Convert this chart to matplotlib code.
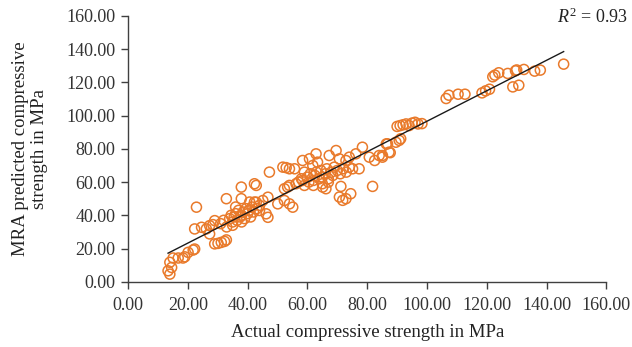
import numpy as np
import matplotlib
matplotlib.use('Agg')
import matplotlib.pyplot as plt

plt.rcParams['font.family'] = ['Liberation Serif', 'DejaVu Serif']
plt.rcParams['mathtext.fontset'] = 'custom'
plt.rcParams['mathtext.it'] = 'Liberation Serif:italic'
plt.rcParams['mathtext.rm'] = 'Liberation Serif'

# actual vs MRA predicted compressive strength (MPa)
actual = [13.4, 14.0, 14.6, 14.0, 15.1, 16.8, 18.4, 19.0, 20.1, 21.8, 22.3,
          22.9,
          22.3, 24.6, 26.2, 27.3, 28.4, 29.0, 27.3,
          29.0, 30.1, 31.2, 32.3, 32.9,
          32.9, 37.9, 42.9, 37.9, 40.7, 42.3,
          31, 32, 33, 34, 34.5, 35, 35.5, 36, 36.5, 37, 37.5, 38, 38.5, 39, 39.5,
          40, 40.5, 41, 41.5, 42, 43, 44, 46.2, 46.8, 35, 38, 36, 44,
          42.9, 45.1, 46.8,
          50.1, 52.3, 54.0, 55.1,
          52.3, 53.4, 54.0, 56.2, 58.4,
          51.8, 52.9, 54.0, 55.7, 47.3, 42.3,
          58.4, 60.7, 62.9, 63.4, 61.8,
          57, 58, 59, 60, 60.5, 61, 62, 62.5, 63, 64, 64.5, 65, 66, 66.5, 67, 68,
          68.5, 69, 70, 71, 72, 73, 74, 59, 62, 67, 65,
          67.3, 69.6, 70.7, 72.9, 74.0, 76.2, 78.4,
          65.1, 66.2,
          70.7, 71.8, 72.9, 74.5, 71.2,
          81.8,
          77.3, 75.1,
          80.7, 84.0, 85.1, 87.3, 89.6, 86.8, 85.1, 87.7, 86.4, 91.2, 90.7, 82.5,
          90, 91, 92, 93, 94, 95, 96, 97, 98.3,
          106.4, 107.3, 110.4, 112.7,
          118.4, 119.6, 120.9,
          122.0, 122.7, 124.0, 127.0, 129.6, 130.0, 132.4, 136.0, 137.9,
          128.7, 130.7,
          145.7]
predicted = [6.6, 4.6, 8.6, 11.7, 14.3, 14.3, 14.3, 15.0, 17.7, 19.1, 19.7,
             44.9,
             31.8, 32.8, 31.8, 33.8, 34.4, 36.8, 28.8,
             22.8, 23.1, 23.7, 24.3, 25.2,
             50.0, 57.0, 58.0, 50.0, 48.0, 48.0,
             35, 37, 33, 38, 40, 36, 39, 41, 37, 43, 39, 40, 42, 38, 44,
             41, 43, 39, 45, 42, 44, 42.9, 40.9, 38.8, 34, 36, 45, 46,
             47.9, 48.9, 50.9,
             46.9, 48.9, 46.9, 44.9,
             56, 57, 58, 59, 61,
             69, 68.7, 68, 68, 66, 59,
             73, 74, 77, 72, 70,
             60, 62, 58, 63, 60, 65, 61, 64, 66, 62, 67, 63, 65, 68, 62, 66,
             64, 69, 67, 65, 68, 66, 69, 66, 58, 60, 59,
             76, 79, 74, 73, 75, 77, 81,
             57, 56,
             51, 49, 50, 53, 57.4,
             57.4,
             68, 68,
             75, 76, 75, 78, 84, 83, 76, 77.7, 83, 86.1, 85.1, 73,
             93.5, 94, 94.5, 95, 94, 95.5, 96, 95, 95.2,
             110.3, 112.3, 112.9, 112.9,
             113.7, 114.9, 115.9,
             123.4, 124.4, 125.8, 125.4, 127, 127.5, 127.8, 126.8, 127.4,
             117.3, 118.3,
             131.0]
r2_label = '$R^2$ = 0.93'

x = np.array(actual)
y = np.array(predicted)
slope, intercept = np.polyfit(x, y, 1)
xfit = np.array([x.min(), x.max()])

fig = plt.figure(figsize=(6.32, 3.47), dpi=100)
ax = fig.add_axes([0.2025, 0.188, 0.757, 0.766])

ax.scatter(x, y, s=52, facecolors='none', edgecolors='#E97A2B', linewidths=1.1, zorder=3)
ax.plot(xfit, slope * xfit + intercept, color='#1a1a1a', lw=1.0, zorder=4)

ax.set_xlim(0, 160)
ax.set_ylim(0, 160)
ticks = np.arange(0, 161, 20)
ax.set_xticks(ticks)
ax.set_yticks(ticks)
ax.set_xticklabels(['%.2f' % t for t in ticks])
ax.set_yticklabels(['%.2f' % t for t in ticks])

for s in ['top', 'right']:
    ax.spines[s].set_visible(False)
for s in ['left', 'bottom']:
    ax.spines[s].set_color('#404040')
    ax.spines[s].set_linewidth(1.0)
ax.tick_params(direction='out', length=5, width=1.0, color='#404040',
               labelsize=13, labelcolor='#333333', pad=4)
ax.tick_params(axis='x', pad=6)

ax.set_xlabel('Actual compressive strength in MPa', fontsize=13.5, color='#222222', labelpad=7)
ax.set_ylabel('MRA predicted compressive\nstrength in MPa', fontsize=13.5, color='#222222',
              labelpad=13, linespacing=1.15)

fig.text(0.994, 0.935, r2_label, ha='right', va='baseline', fontsize=13, color='#222222')

fig.savefig('out.png', dpi=100)
